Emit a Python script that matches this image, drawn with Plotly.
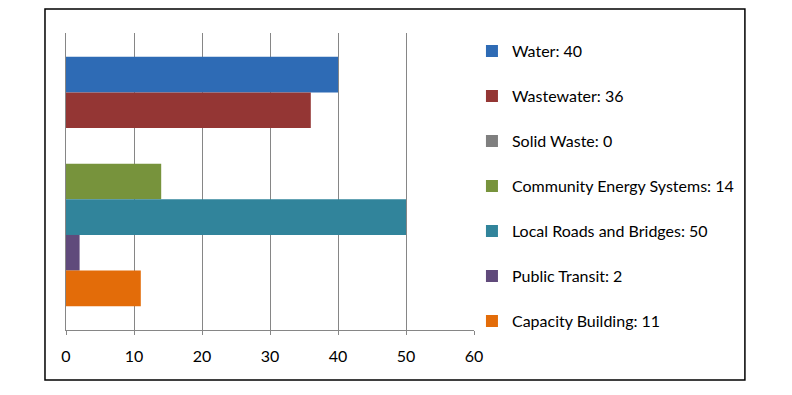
import plotly.graph_objects as go

series = ["Water", "Wastewater", "Solid Waste", "Community Energy Systems",
          "Local Roads and Bridges", "Public Transit", "Capacity Building"]
values = [40, 36, 0, 14, 50, 2, 11]
colors = ["#2E6BB5", "#943634", "#7F7F7F", "#77933C", "#31849B", "#604A7B", "#E36C09"]
category = ["Projects"]
x_ticks = [0, 10, 20, 30, 40, 50, 60]

fig = go.Figure()
for name, v, c in zip(series, values, colors):
    fig.add_trace(go.Bar(
        y=category, x=[v], orientation="h", name=f"{name}: {v}",
        marker=dict(color=c, line=dict(width=0)), legendgroup=name,
    ))

fig.update_layout(
    width=776, height=379,
    margin=dict(l=58, r=310, t=25, b=57),
    paper_bgcolor="white", plot_bgcolor="white",
    barmode="group", bargap=0.16, bargroupgap=0,
    font=dict(family="Lato, Open Sans, sans-serif", size=16, color="#000000"),
    showlegend=True,
    legend=dict(x=0.995, xanchor="left", y=0.996, yanchor="top",
                tracegroupgap=21.2, itemwidth=30, maxheight=380,
                font=dict(size=16, color="#000000"), bgcolor="rgba(0,0,0,0)"),
    xaxis=dict(range=[0, 60], tickvals=x_ticks, showgrid=True, gridcolor="#868686",
               gridwidth=1, zeroline=False, showline=True, linecolor="#868686",
               linewidth=1, ticks="outside", ticklen=4, tickcolor="#868686",
               ticklabelstandoff=8,
               tickfont=dict(size=16, color="#000000"), fixedrange=True),
    yaxis=dict(autorange="reversed", showticklabels=False, showgrid=False,
               zeroline=False, showline=True, linecolor="#868686", linewidth=1, ticks=""),
    shapes=[dict(type="rect", xref="paper", yref="paper",
                 x0=-0.0515, x1=1.664, y0=-0.168, y1=1.0808,
                 line=dict(color="black", width=1.5), fillcolor="rgba(0,0,0,0)", layer="below")],
)

fig.write_html("out.html")
